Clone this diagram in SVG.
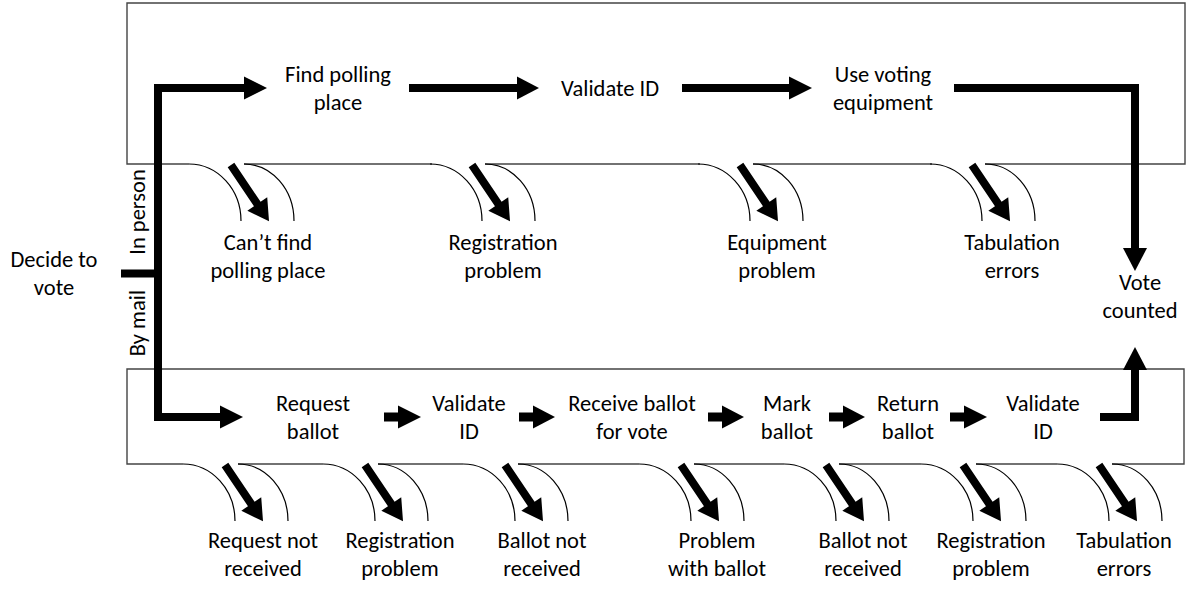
<svg xmlns="http://www.w3.org/2000/svg" xmlns:xlink="http://www.w3.org/1999/xlink" width="1193" height="592" viewBox="0 0 1193 592">
<style>
text{font-family:Carlito,Calibri,Lato,"Liberation Sans",sans-serif;font-size:22.5px;fill:#000;text-anchor:middle}
.box{fill:none;stroke:#444;stroke-width:1.4}
.arc{fill:none;stroke:#000;stroke-width:1.2}
.thick{fill:none;stroke:#000;stroke-width:8;stroke-linejoin:miter}
.thin{fill:none;stroke:#000;stroke-width:9}
.head{fill:#000}
</style>
<defs>
<path id="diag" d="M0,-4 H47 V-12 L68,0 L47,12 V4 H0 Z" fill="#000"/>
</defs>

<g id="frames">
<path class="box" d="M189,164 H127 V3 H1185 V164 H985 M932,164 H753 M700,164 H485 M432,164 H244"/>
<path class="box" d="M183,464 H127 V369 H1184 V464 H1112 M1057,464 H976 M921,464 H839 M784,464 H694 M639,464 H518 M463,464 H378 M323,464 H238"/>
<g class="arc">
<path d="M189,164 A52,57 0 0 1 241,221 M244,164 A50,57 0 0 1 294,221"/>
<path d="M430,164 A52,57 0 0 1 482,221 M485,164 A50,57 0 0 1 535,221"/>
<path d="M698,164 A52,57 0 0 1 750,221 M753,164 A50,57 0 0 1 803,221"/>
<path d="M930,164 A52,57 0 0 1 982,221 M985,164 A50,57 0 0 1 1035,221"/>
</g>
<g class="arc">
<path d="M183,464 A52,57 0 0 1 235,521 M238,464 A50,57 0 0 1 288,521"/>
<path d="M323,464 A52,57 0 0 1 375,521 M378,464 A50,57 0 0 1 428,521"/>
<path d="M463,464 A52,57 0 0 1 515,521 M518,464 A50,57 0 0 1 568,521"/>
<path d="M639,464 A52,57 0 0 1 691,521 M694,464 A50,57 0 0 1 744,521"/>
<path d="M784,464 A52,57 0 0 1 836,521 M839,464 A50,57 0 0 1 889,521"/>
<path d="M921,464 A52,57 0 0 1 973,521 M976,464 A50,57 0 0 1 1026,521"/>
<path d="M1057,464 A52,57 0 0 1 1109,521 M1112,464 A50,57 0 0 1 1162,521"/>
</g>
</g>

<g id="connectors">
<path class="thick" d="M121,273.5 H158"/>
<path class="thick" d="M244,88 H158 V417 H220"/>
<polygon class="head" points="244,76.5 267,88 244,99.5"/>
<polygon class="head" points="220,405.5 243,417 220,428.5"/>
<path class="thick" d="M409,88 H518"/>
<polygon class="head" points="517,76.5 539,88 517,99.5"/>
<path class="thick" d="M682,88 H790"/>
<polygon class="head" points="789,76.5 812,88 789,99.5"/>
<path class="thick" d="M954,88 H1135 V249"/>
<polygon class="head" points="1123,248 1147,248 1135,271"/>
<path class="thick" d="M1100,417 H1135 V369"/>
<polygon class="head" points="1123,370 1147,370 1135,347"/>
<path class="thin" d="M384,417 H399 M519,417 H534 M708,417 H723 M829,417 H844 M950,417 H965"/>
<polygon class="head" points="398,405.5 421,417 398,428.5"/>
<polygon class="head" points="533,405.5 555,417 533,428.5"/>
<polygon class="head" points="722,405.5 744,417 722,428.5"/>
<polygon class="head" points="843,405.5 865,417 843,428.5"/>
<polygon class="head" points="964,405.5 987,417 964,428.5"/>
<use xlink:href="#diag" transform="translate(231,165) rotate(56)"/>
<use xlink:href="#diag" transform="translate(472,165) rotate(56)"/>
<use xlink:href="#diag" transform="translate(740,165) rotate(56)"/>
<use xlink:href="#diag" transform="translate(972,165) rotate(56)"/>
<use xlink:href="#diag" transform="translate(225,465) rotate(56)"/>
<use xlink:href="#diag" transform="translate(365,465) rotate(56)"/>
<use xlink:href="#diag" transform="translate(505,465) rotate(56)"/>
<use xlink:href="#diag" transform="translate(681,465) rotate(56)"/>
<use xlink:href="#diag" transform="translate(826,465) rotate(56)"/>
<use xlink:href="#diag" transform="translate(963,465) rotate(56)"/>
<use xlink:href="#diag" transform="translate(1099,465) rotate(56)"/>
</g>

<g id="decide"><text x="54" y="267">Decide to<tspan x="54" dy="28">vote</tspan></text></g>
<g id="in-person"><text transform="translate(145,212) rotate(-90)">In person</text></g>
<g id="by-mail"><text transform="translate(145,323) rotate(-90)">By mail</text></g>

<g id="find-polling"><text x="338" y="82">Find polling<tspan x="338" dy="28">place</tspan></text></g>
<g id="validate-id-1"><text x="610" y="96">Validate ID</text></g>
<g id="use-equipment"><text x="883" y="82">Use voting<tspan x="883" dy="28">equipment</tspan></text></g>

<g id="cant-find"><text x="268" y="250">Can’t find<tspan x="268" dy="28">polling place</tspan></text></g>
<g id="registration-1"><text x="503" y="250">Registration<tspan x="503" dy="28">problem</tspan></text></g>
<g id="equipment-problem"><text x="777" y="250">Equipment<tspan x="777" dy="28">problem</tspan></text></g>
<g id="tabulation-1"><text x="1012" y="250">Tabulation<tspan x="1012" dy="28">errors</tspan></text></g>
<g id="vote-counted"><text x="1140" y="290">Vote<tspan x="1140" dy="28">counted</tspan></text></g>

<g id="request-ballot"><text x="313" y="411">Request<tspan x="313" dy="28">ballot</tspan></text></g>
<g id="validate-id-2"><text x="469" y="411">Validate<tspan x="469" dy="28">ID</tspan></text></g>
<g id="receive-ballot"><text x="632" y="411">Receive ballot<tspan x="632" dy="28">for vote</tspan></text></g>
<g id="mark-ballot"><text x="787" y="411">Mark<tspan x="787" dy="28">ballot</tspan></text></g>
<g id="return-ballot"><text x="908" y="411">Return<tspan x="908" dy="28">ballot</tspan></text></g>
<g id="validate-id-3"><text x="1043" y="411">Validate<tspan x="1043" dy="28">ID</tspan></text></g>

<g id="request-not-received"><text x="263" y="548">Request not<tspan x="263" dy="28">received</tspan></text></g>
<g id="registration-2"><text x="400" y="548">Registration<tspan x="400" dy="28">problem</tspan></text></g>
<g id="ballot-not-received-1"><text x="542" y="548">Ballot not<tspan x="542" dy="28">received</tspan></text></g>
<g id="problem-with-ballot"><text x="717" y="548">Problem<tspan x="717" dy="28">with ballot</tspan></text></g>
<g id="ballot-not-received-2"><text x="863" y="548">Ballot not<tspan x="863" dy="28">received</tspan></text></g>
<g id="registration-3"><text x="991" y="548">Registration<tspan x="991" dy="28">problem</tspan></text></g>
<g id="tabulation-2"><text x="1124" y="548">Tabulation<tspan x="1124" dy="28">errors</tspan></text></g>
</svg>
